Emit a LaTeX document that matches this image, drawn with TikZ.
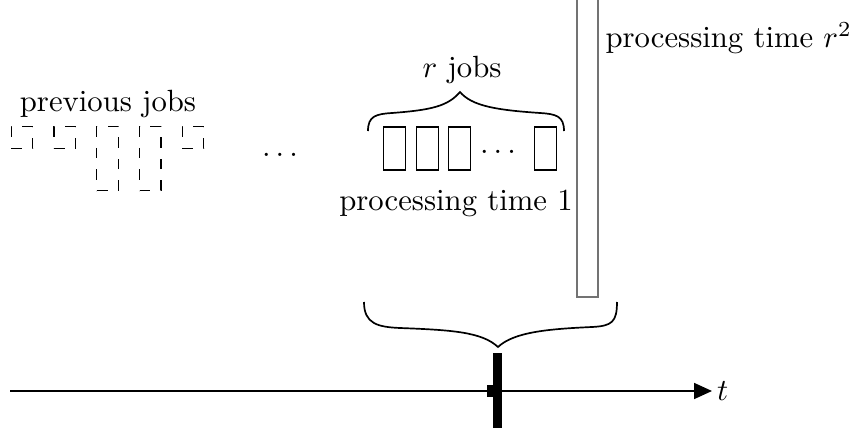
\documentclass[tikz,border=0pt]{standalone}
\usetikzlibrary{arrows.meta}
\begin{document}
\begin{tikzpicture}[x=0.3257pt,y=-0.3257pt,
  oldjob/.style={draw, line width=0.4pt, dash pattern=on 3.485pt off 3.485pt,
    inner sep=0pt, outer sep=0pt, minimum width=6.97pt},
  newjob/.style={draw, line width=0.4pt, inner sep=0pt, outer sep=0pt,
    minimum width=6.97pt, minimum height=13.94pt},
  longjob/.style={draw=black!55, line width=0.55pt, inner sep=0pt, outer sep=0pt,
    minimum width=6.97pt, minimum height=100pt},
  lbl/.style={inner sep=0pt},
  bracestyle/.style={line width=0.55pt}
]
\useasboundingbox (0,0) rectangle (856,435);

% previous (dashed) jobs
\node[oldjob, minimum height=6.97pt]  (o1) at (22,137.5) {};
\node[oldjob, minimum height=6.97pt]  (o2) at (64.75,137.5) {};
\node[oldjob, minimum height=20.91pt] (o3) at (107.5,158.5) {};
\node[oldjob, minimum height=20.91pt] (o4) at (150.25,158.5) {};
\node[oldjob, minimum height=6.97pt]  (o5) at (193,137.5) {};
\node[lbl] (prev) at (108,104) {previous jobs};

\node[lbl] (dotsA) at (280,155) {$\dots$};

% r unit jobs
\node[newjob] (n1) at (394.5,148.5) {};
\node[newjob] (n2) at (427.5,148.5) {};
\node[newjob] (n3) at (459.5,148.5) {};
\node[lbl] (dotsB) at (498,152) {$\dots$};
\node[newjob] (n4) at (545.5,148.5) {};

% upper brace
\coordinate (ub1) at (368,131);
\coordinate (ubt) at (460,92);
\coordinate (ub2) at (564,131);
\draw[bracestyle] (ub1) .. controls (368,116) and (376,114) .. (392,113)
  .. controls (432,110) and (448,106) .. (ubt)
  .. controls (472,106) and (496,110) .. (540,113)
  .. controls (556,114) and (564,116) .. (ub2);
\node[lbl] (rjobs) at (462,70) {$r$ jobs};
\node[lbl] (pt1) at (456,203) {processing time 1};

% long job
\node[longjob] (long) at (587.5,143.5) {};
\node[lbl, anchor=west] (ptr) at (605,38) {processing time $r^2$};

% lower brace
\coordinate (lb1) at (364,302);
\coordinate (lbt) at (498,347);
\coordinate (lb2) at (617,302);
\draw[bracestyle] (lb1) .. controls (364,324) and (378,327) .. (400,328)
  .. controls (452,330) and (482,332) .. (lbt)
  .. controls (514,332) and (548,329) .. (592,327)
  .. controls (612,326) and (617,322) .. (lb2);

% time axis
\coordinate (a0) at (10,391);
\coordinate (a1) at (712,391);
\draw[line width=0.4pt, -{Triangle[length=5.8pt,width=5.2pt]}] (a0) -- (a1);
\node[anchor=west, inner sep=1.5pt] (t) at (a1) {$t$};

% marker
\node[fill, inner sep=0pt, minimum width=2.9pt, minimum height=24.4pt] (bar) at (497.5,390.5) {};
\node[fill, inner sep=0pt, minimum width=2.3pt, minimum height=3.9pt] (tick) at (490.5,391) {};
\end{tikzpicture}
\end{document}
